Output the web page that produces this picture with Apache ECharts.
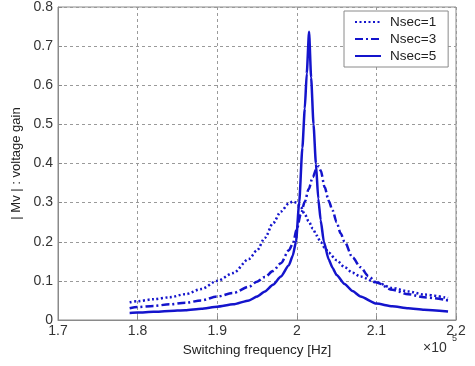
<!DOCTYPE html>
<html>
<head>
<meta charset="utf-8">
<script src="https://cdn.jsdelivr.net/npm/echarts@6/dist/echarts.min.js"></script>
<style>
html,body{margin:0;padding:0;background:#fff;}
#c{width:475px;height:366px;}
</style>
</head>
<body>
<div id="c"></div>
<script>
// Switching frequency (x 10^5 Hz) and |Mv| voltage gain
var xTicks = [1.7, 1.8, 1.9, 2.0, 2.1, 2.2];
var yTicks = [0, 0.1, 0.2, 0.3, 0.4, 0.5, 0.6, 0.7, 0.8];
var seriesNames = ['Nsec=1', 'Nsec=3', 'Nsec=5'];

var n1Freq = [1.79, 1.80, 1.82, 1.84, 1.86, 1.88, 1.90, 1.92, 1.94, 1.95, 1.96, 1.97, 1.98, 1.99, 1.995, 2.00, 2.005, 2.01, 2.015, 2.02, 2.025, 2.03, 2.035, 2.04, 2.05, 2.06, 2.07, 2.08, 2.10, 2.12, 2.14, 2.16, 2.19];
var n1Gain = [0.045, 0.048, 0.053, 0.058, 0.066, 0.079, 0.100, 0.120, 0.156, 0.178, 0.210, 0.247, 0.277, 0.298, 0.303, 0.300, 0.289, 0.270, 0.252, 0.234, 0.216, 0.199, 0.185, 0.172, 0.153, 0.135, 0.121, 0.111, 0.096, 0.082, 0.073, 0.065, 0.056];

var n3Freq = [1.79, 1.80, 1.82, 1.84, 1.86, 1.88, 1.90, 1.92, 1.94, 1.95, 1.96, 1.97, 1.98, 1.99, 1.995, 2.00, 2.005, 2.01, 2.015, 2.02, 2.025, 2.0275, 2.03, 2.035, 2.04, 2.045, 2.05, 2.055, 2.06, 2.07, 2.08, 2.09, 2.10, 2.12, 2.14, 2.16, 2.19];
var n3Gain = [0.030, 0.033, 0.036, 0.040, 0.044, 0.050, 0.060, 0.069, 0.085, 0.098, 0.110, 0.125, 0.145, 0.178, 0.195, 0.232, 0.270, 0.302, 0.335, 0.365, 0.388, 0.393, 0.382, 0.340, 0.305, 0.280, 0.250, 0.222, 0.200, 0.160, 0.135, 0.112, 0.096, 0.077, 0.066, 0.058, 0.050];

var n5Freq = [1.79, 1.80, 1.82, 1.84, 1.86, 1.88, 1.90, 1.92, 1.94, 1.95, 1.96, 1.97, 1.98, 1.99, 1.995, 1.999, 2.003, 2.007, 2.010, 2.0125, 2.0154, 2.018, 2.021, 2.024, 2.027, 2.03, 2.034, 2.04, 2.045, 2.05, 2.06, 2.07, 2.08, 2.10, 2.12, 2.14, 2.16, 2.19];
var n5Gain = [0.018, 0.019, 0.021, 0.023, 0.025, 0.029, 0.034, 0.040, 0.050, 0.060, 0.073, 0.090, 0.111, 0.140, 0.165, 0.200, 0.300, 0.440, 0.540, 0.630, 0.737, 0.620, 0.500, 0.400, 0.310, 0.255, 0.200, 0.155, 0.133, 0.115, 0.092, 0.074, 0.060, 0.042, 0.035, 0.030, 0.026, 0.022];

function pairs(xs, ys) { return xs.map(function (x, i) { return [x, ys[i]]; }); }

var blue = '#1414cc';
var font = 'Liberation Sans, Arial, Helvetica, sans-serif';
var chart = echarts.init(document.getElementById('c'), null, {renderer: 'canvas'});
chart.setOption({
  animation: false,
  backgroundColor: '#fff',
  grid: {left: 58, right: 19, top: 7, bottom: 46, show: true, borderColor: '#8a8a8a', borderWidth: 1, backgroundColor: 'transparent'},
  xAxis: {
    type: 'value', min: xTicks[0], max: xTicks[xTicks.length - 1], interval: 0.1,
    name: 'Switching frequency [Hz]', nameLocation: 'middle', nameGap: 19,
    nameTextStyle: {fontFamily: font, fontSize: 13.5, color: '#222'},
    axisLine: {show: true, lineStyle: {color: '#8a8a8a', width: 1}},
    axisTick: {show: true, inside: true, length: 4, lineStyle: {color: '#8a8a8a'}},
    axisLabel: {fontFamily: font, fontSize: 14, color: '#333', margin: 4},
    splitLine: {show: true, lineStyle: {color: '#9a9a9a', type: [3, 3], width: 1}}
  },
  yAxis: {
    type: 'value', min: yTicks[0], max: yTicks[yTicks.length - 1], interval: 0.1,
    name: '| Mv | : voltage gain', nameLocation: 'middle', nameGap: 29,
    nameTextStyle: {fontFamily: font, fontSize: 13, color: '#222'},
    axisLine: {show: true, lineStyle: {color: '#8a8a8a', width: 1}},
    axisTick: {show: true, inside: true, length: 4, lineStyle: {color: '#8a8a8a'}},
    axisLabel: {fontFamily: font, fontSize: 14, color: '#333', margin: 5},
    splitLine: {show: true, lineStyle: {color: '#9a9a9a', type: [3, 3], width: 1}}
  },
  legend: {
    orient: 'vertical', left: 344, top: 11,
    padding: [4, 12, 4, 10], itemGap: 3, itemWidth: 26, itemHeight: 13,
    borderColor: '#8a8a8a', borderWidth: 1, backgroundColor: '#fff',
    itemStyle: {opacity: 0},
    textStyle: {fontFamily: font, fontSize: 13.5, color: '#222', padding: [0, 0, 0, 4]},
    data: seriesNames
  },
  series: [
    {name: seriesNames[0], type: 'line', data: pairs(n1Freq, n1Gain), showSymbol: false, symbol: 'none', smooth: 0.3, smoothMonotone: 'x',
     lineStyle: {color: blue, width: 2.5, type: [2, 2.5]}, itemStyle: {color: blue}, z: 3},
    {name: seriesNames[1], type: 'line', data: pairs(n3Freq, n3Gain), showSymbol: false, symbol: 'none', smooth: 0.3, smoothMonotone: 'x',
     lineStyle: {color: blue, width: 2.5, type: [8, 3, 2, 3]}, itemStyle: {color: blue}, z: 4},
    {name: seriesNames[2], type: 'line', data: pairs(n5Freq, n5Gain), showSymbol: false, symbol: 'none', smooth: 0.2, smoothMonotone: 'x',
     lineStyle: {color: blue, width: 2.5, type: 'solid'}, itemStyle: {color: blue}, z: 5}
  ],
  graphic: [
    {type: 'text', left: 423, top: 341, style: {text: '×10', font: '14px ' + font, fill: '#333'}},
    {type: 'text', left: 452, top: 334, style: {text: '5', font: '9px ' + font, fill: '#333'}}
  ]
});
</script>
</body>
</html>
